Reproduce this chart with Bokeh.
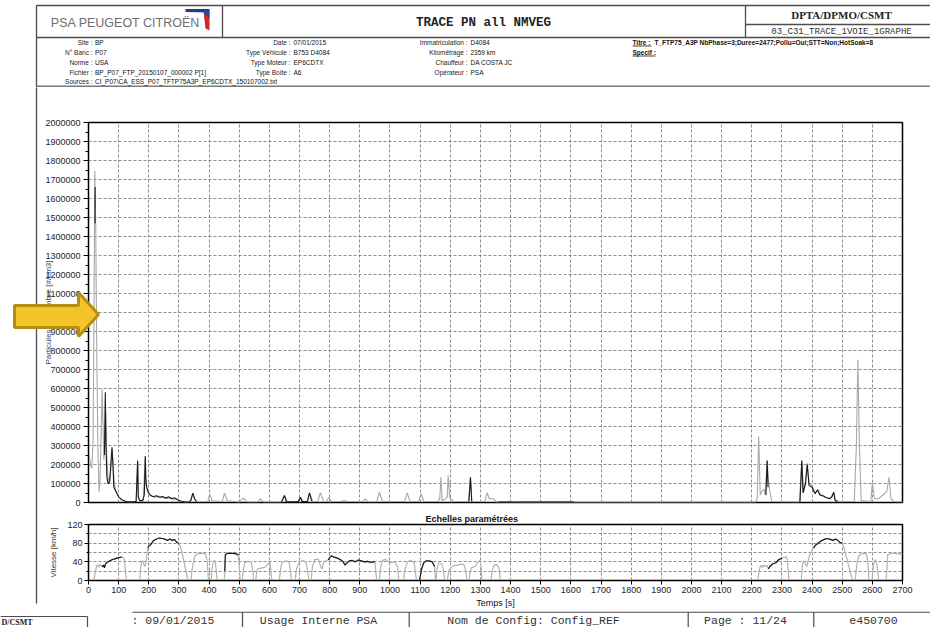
import math
from bokeh.plotting import figure
from bokeh.models import Range1d, SingleIntervalTicker, FixedTicker, NumeralTickFormatter
from bokeh.core.properties import value
from bokeh.embed import file_html
from bokeh.resources import INLINE

# ---------------- data ----------------
# particle number, grey trace: (time s, #/cm3)
particles_grey = [
    (0, 250000), (3, 245000), (7, 195000), (11, 180000), (15, 320000), (18, 950000), (21, 1745000), (24, 1450000), (27, 850000), (31, 300000),
    (35, 55000), (38, 110000), (42, 360000), (45, 598000), (48, 420000), (51, 225000), (54, 320000), (57, 480000), (60, 260000), (64, 140000),
    (69, 100000), (74, 170000), (78, 280000), (82, 190000), (86, 95000), (92, 55000), (100, 30000), (108, 15000), (116, 8000), (126, 4000),
    (140, 3000), (158, 5000), (163, 215000), (166, 20000), (172, 8000), (182, 18000), (188, 244000), (191, 90000), (196, 60000), (202, 42000),
    (212, 33000), (222, 28000), (232, 34000), (242, 24000), (252, 29000), (262, 20000), (272, 28000), (282, 14000), (292, 21000), (302, 9000),
    (312, 4000), (330, 3000), (340, 10000), (346, 48000), (352, 15000), (362, 4000), (396, 5000), (402, 46000), (410, 9000), (444, 5000),
    (451, 51000), (460, 9000), (500, 3000), (514, 23000), (526, 3000), (562, 3000), (570, 19000), (580, 3000), (640, 3000), (650, 37000),
    (660, 4000), (695, 5000), (703, 28000), (712, 5000), (726, 5000), (733, 51000), (744, 5000), (760, 5000), (769, 51000), (780, 5000),
    (790, 5000), (797, 28000), (806, 5000), (838, 6000), (848, 10000), (860, 5000), (910, 5000), (918, 19000), (927, 4000), (956, 4000),
    (965, 54000), (975, 5000), (1048, 5000), (1057, 51000), (1067, 5000), (1095, 5000), (1103, 46000), (1112, 5000), (1158, 5000), (1165, 20000),
    (1169, 133000), (1173, 10000), (1184, 18000), (1190, 30000), (1193, 142000), (1198, 25000), (1212, 5000), (1260, 5000), (1267, 133000), (1272, 5000),
    (1314, 5000), (1322, 51000), (1330, 20000), (1343, 20000), (1352, 3000), (1420, 2000), (1700, 2000), (2000, 2000), (2212, 2000), (2218, 20000),
    (2223, 347000), (2228, 40000), (2234, 60000), (2240, 70000), (2245, 40000), (2251, 221000), (2256, 100000), (2266, 5000), (2358, 3000), (2366, 220000),
    (2372, 60000), (2378, 90000), (2384, 207000), (2390, 100000), (2400, 90000), (2410, 46000), (2420, 67000), (2430, 37000), (2445, 28000), (2460, 20000),
    (2472, 54000), (2478, 12000), (2490, 5000), (2540, 5000), (2547, 300000), (2552, 751000), (2557, 300000), (2563, 10000), (2595, 5000), (2600, 107000),
    (2607, 20000), (2620, 20000), (2640, 46000), (2648, 60000), (2655, 133000), (2662, 20000), (2672, 5000), (2700, 3000),
]
# particle number, dark trace segments
particles_dark_a = [(21.6, 1470000), (21.9, 1660000)]
particles_dark_b = [
    (53, 250000), (55.7, 580000), (58, 300000), (61, 133000), (65, 98000), (70, 110000), (74, 200000), (78, 291000), (81, 200000), (84, 80000),
    (90, 60000), (95, 46000), (100, 30000), (108, 19000), (116, 10000), (125, 5000), (140, 4000), (158, 5000), (163, 221000), (165, 30000),
    (170, 10000), (180, 10000), (185, 40000), (188.5, 244000), (190, 130000), (193, 80000), (198, 55000), (205, 38000), (215, 30000), (225, 35000),
    (235, 28000), (245, 32000), (255, 22000), (265, 30000), (275, 20000), (285, 25000), (295, 15000), (305, 8000), (320, 3000), (335, 3000),
    (340, 15000), (346, 49000), (352, 20000), (358, 5000),
]
particles_dark_c = [(640, 3000), (650, 37000), (656, 5000), (695, 4000), (703, 28000), (708, 5000), (726, 5000), (733, 51000), (740, 8000)]
particles_dark_d = [(1262, 5000), (1267, 133000), (1271, 5000)]
particles_dark_e = [(1360, 3000), (1610, 3000)]
particles_dark_f = [(2247, 40000), (2251, 221000), (2254, 80000)]
particles_dark_g = [
    (2360, 3000), (2366, 221000), (2370, 50000), (2378, 100000), (2384, 200000), (2390, 90000), (2400, 80000), (2410, 46000), (2418, 67000),
    (2425, 40000), (2435, 37000), (2445, 28000), (2458, 20000), (2466, 30000), (2472, 54000), (2476, 12000), (2484, 5000),
]

# vehicle speed, grey trace: (time s, km/h)
speed_grey = [
    (0, 0), (17, 0), (21, 12), (25, 25), (28, 33), (32, 33), (35, 28), (38, 34), (41, 33), (45, 30),
    (50, 33), (53, 27), (56, 35), (60, 38), (70, 42), (80, 45), (90, 47), (100, 49), (110, 50), (115, 50),
    (118, 45), (121, 30), (124, 10), (126, 0), (170, 0), (173, 25), (176, 40), (180, 42), (184, 35), (187, 30),
    (190, 35), (194, 55), (197, 70), (200, 74), (205, 76), (215, 85), (225, 89), (235, 91), (245, 90), (255, 88),
    (262, 86), (270, 89), (278, 86), (285, 88), (290, 84), (295, 81), (300, 80), (305, 72), (310, 60), (315, 45),
    (320, 30), (325, 15), (330, 0), (340, 0), (343, 20), (348, 40), (353, 52), (360, 57), (370, 58), (380, 58),
    (388, 57), (393, 45), (396, 20), (398, 0), (407, 0), (410, 25), (414, 40), (418, 44), (421, 38), (424, 20),
    (427, 0), (450, 0), (452, 20), (454, 55), (460, 58), (470, 58), (480, 58), (490, 57), (497, 55), (500, 30),
    (503, 0),
    (510, 0), (513, 20), (518, 38), (530, 41), (540, 40), (545, 20), (548, 0), (555, 0), (558, 20), (562, 25),
    (575, 27), (585, 28), (595, 35), (602, 40), (605, 20), (608, 0), (633, 0), (637, 25), (642, 38), (655, 42),
    (665, 40), (670, 20), (673, 0), (685, 0), (690, 25), (700, 40), (712, 43), (722, 38), (728, 15), (731, 0),
    (738, 0), (743, 30), (750, 45), (762, 46), (770, 30), (775, 25), (780, 40), (790, 43), (795, 44), (805, 53),
    (815, 50), (825, 48), (835, 45), (845, 40), (850, 33), (858, 38), (865, 42), (875, 43), (885, 40), (895, 44),
    (905, 42), (915, 40), (925, 41), (935, 39), (945, 40), (950, 40), (953, 20), (956, 0), (965, 0), (968, 25),
    (975, 43), (985, 45), (995, 40), (1005, 38), (1015, 40), (1025, 30), (1030, 0), (1045, 0), (1050, 25), (1058, 40),
    (1070, 43), (1080, 38), (1085, 15), (1088, 0), (1098, 0), (1105, 25), (1112, 38), (1120, 42), (1130, 42), (1140, 40),
    (1148, 30), (1151, 0), (1153, 0), (1156, 25), (1162, 38), (1172, 36), (1178, 20), (1181, 0), (1190, 0), (1195, 20),
    (1205, 30), (1215, 32), (1225, 33), (1235, 35), (1245, 34), (1252, 20), (1255, 0), (1262, 0), (1266, 20), (1272, 28),
    (1282, 30), (1290, 38), (1298, 43), (1302, 30), (1305, 0), (1335, 0), (1339, 20), (1345, 33), (1355, 34), (1362, 25),
    (1366, 0), (2220, 0),
    (2223, 15), (2227, 28), (2232, 33), (2236, 28), (2240, 33), (2245, 30), (2250, 33), (2255, 25), (2260, 30), (2270, 36),
    (2280, 38), (2290, 45), (2300, 48), (2310, 50), (2316, 50), (2319, 35), (2322, 10), (2324, 0), (2364, 0), (2367, 25),
    (2370, 40), (2374, 42), (2378, 35), (2382, 30), (2386, 40), (2392, 55), (2400, 65), (2405, 70), (2410, 75), (2420, 80),
    (2430, 85), (2440, 88), (2450, 90), (2460, 88), (2470, 86), (2478, 89), (2485, 86), (2492, 82), (2500, 80), (2506, 70),
    (2512, 55), (2518, 40), (2524, 25), (2530, 10), (2535, 0), (2543, 0), (2546, 20), (2550, 40), (2555, 52), (2562, 57),
    (2572, 58), (2580, 57), (2584, 45), (2587, 20), (2589, 0), (2599, 0), (2602, 25), (2606, 40), (2610, 45), (2614, 38),
    (2618, 20), (2621, 0), (2645, 0), (2648, 20), (2651, 55), (2660, 58), (2675, 58), (2690, 57), (2698, 55), (2700, 55),
]
# vehicle speed, dark trace segments
speed_dark_1 = [(45, 30), (50, 33), (53, 27), (56, 35), (60, 38), (70, 42), (80, 45), (90, 47), (100, 49), (110, 50)]
speed_dark_2 = [(197, 70), (200, 74), (205, 76), (215, 85), (225, 89), (235, 91), (245, 90), (255, 88), (262, 86), (270, 89),
                (278, 86), (285, 88), (290, 84), (295, 81), (300, 80)]
speed_dark_3 = [(452, 20), (454, 55), (460, 58), (470, 58), (480, 58), (490, 57), (497, 55)]
speed_dark_4 = [(795, 44), (805, 53), (815, 50), (825, 48), (835, 45), (845, 40), (850, 33), (858, 38), (865, 42), (875, 43),
                (885, 40), (895, 44), (905, 42), (915, 40), (925, 41), (935, 39), (945, 40), (950, 40)]
speed_dark_5 = [(1098, 0), (1105, 25), (1112, 38), (1120, 42), (1130, 42), (1140, 40), (1148, 30)]
speed_dark_6 = [(2255, 25), (2260, 30), (2270, 36), (2280, 38), (2290, 45), (2300, 48)]
speed_dark_7 = [(2405, 70), (2410, 75), (2420, 80), (2430, 85), (2440, 88), (2450, 90), (2460, 88), (2470, 86), (2478, 89),
                (2485, 86), (2492, 82), (2500, 80)]

y_ticks_speed = [0, 40, 80, 120]

header_col1 = [("Site :", "BP"), ("N° Banc :", "P07"), ("Norme :", "USA"),
               ("Fichier :", "BP_P07_FTP_20150107_000002 P[1]"),
               ("Sources :", "CI_P07\\CA_ESS_P07_TFTP75A3P_EP6CDTX_150107002.txt")]
header_col2 = [("Date :", "07/01/2015"), ("Type Véhicule :", "B753 D4084"), ("Type Moteur :", "EP6CDTX"), ("Type Boîte :", "A6")]
header_col3 = [("Immatriculation :", "D4084"), ("Kilométrage :", "2359 km"), ("Chauffeur :", "DA COSTA JC"), ("Opérateur :", "PSA")]
titre_value = "T_FTP75_A3P NbPhase=3;Duree=2477;Pollu=Oui;STT=Non;HotSoak=8"
footer_texts = [": 09/01/2015", "Usage Interne PSA", "Nom de Config: Config_REF", "Page : 11/24", "e450700"]

# ---------------- styling ----------------
W = 930
SANS = "Liberation Sans"
MONO = "Liberation Mono"
SERIF = "Liberation Serif"
LINE = "#4d4d4d"
GREY = "#a8a8a8"
DARK = "#1a1a1a"


def canvas_fig(height, y_top, **kw):
    f = figure(width=W, height=height, x_range=Range1d(0, W), y_range=Range1d(y_top + height, y_top),
               x_axis_type=None, y_axis_type=None, toolbar_location=None, output_backend="svg",
               min_border=0, outline_line_color=None, **kw)
    f.min_border_left = f.min_border_right = f.min_border_top = f.min_border_bottom = 0
    return f


def unzip(pairs):
    return [a for a, _ in pairs], [b for _, b in pairs]


# ---------------- header ----------------
H_HDR = 87
hdr = canvas_fig(H_HDR, 0)
hdr.segment(x0=[36, 36, 36, 222, 745, 745], y0=[5, 37, 5, 5, 5, 24],
            x1=[930, 930, 36, 222, 745, 930], y1=[5, 37, 87, 37, 37, 24], line_color=LINE, line_width=1.3)
hdr.segment(x0=[36], y0=[86], x1=[930], y1=[86], line_color="#7a7a7a", line_width=2)
# logo
hdr.text(x=[125], y=[22.5], text=["PSA PEUGEOT CITROËN"], text_font=value(SANS), text_font_size="12.5px",
         text_color="#6e6e70", text_align="center", text_baseline="middle")
hdr.patches(xs=[[185, 209, 209, 185], [203, 209, 209, 205]], ys=[[8.5, 8.5, 12, 11.5], [11, 11, 30, 28]],
            fill_color=["#1c3f94", "#d7242f"], line_color=None)
hdr.patches(xs=[[203, 209, 209]], ys=[[11.5, 11, 18]], fill_color=["#2a4aa0"], line_color=None)
hdr.text(x=[483], y=[22], text=["TRACE PN all NMVEG"], text_font=value(MONO), text_font_style="bold",
         text_font_size="12.5px", text_color="#222", text_align="center", text_baseline="middle")
hdr.text(x=[841], y=[14], text=["DPTA/DPMO/CSMT"], text_font=value(SERIF), text_font_style="bold",
         text_font_size="11px", text_color="#222", text_align="center", text_baseline="middle")
hdr.text(x=[841], y=[31], text=["03_C31_TRACE_1VOIE_1GRAPHE"], text_font=value(MONO),
         text_font_size="9px", text_color="#333", text_align="center", text_baseline="middle")
rows_y = [42, 52, 62, 71.5, 81]
for col, lx, vx in ((header_col1, 92, 94.5), (header_col2, 290, 293), (header_col3, 467, 470)):
    ys = rows_y[:len(col)]
    hdr.text(x=[lx] * len(col), y=ys, text=[c[0] for c in col], text_font=value(SANS), text_font_size="6.5px",
             text_color="#222", text_align="right", text_baseline="middle")
    hdr.text(x=[vx] * len(col), y=ys, text=[c[1] for c in col], text_font=value(SANS), text_font_size="6.5px",
             text_color="#111", text_align="left", text_baseline="middle")
hdr.text(x=[632, 632], y=[42, 52], text=["Titre :", "Specif :"], text_font=value(SANS), text_font_style="bold",
         text_font_size="6.5px", text_color="#111", text_align="left", text_baseline="middle")
hdr.segment(x0=[632, 632], y0=[45.5, 55.5], x1=[651, 655], y1=[45.5, 55.5], line_color="#111", line_width=0.8)
hdr.text(x=[654], y=[42], text=[titre_value], text_font=value(SANS), text_font_style="bold",
         text_font_size="6.5px", text_color="#111", text_align="left", text_baseline="middle")

# ---------------- main chart ----------------
H_MAIN = 423
main = figure(width=W, height=H_MAIN, x_range=Range1d(0, 2700), y_range=Range1d(0, 2000000),
              toolbar_location=None, output_backend="svg",
              min_border_left=88, min_border_right=28, min_border_top=35, min_border_bottom=8)
main.outline_line_color = "black"
main.outline_line_width = 1.5
main.xaxis.visible = False
main.xaxis.ticker = SingleIntervalTicker(interval=100, num_minor_ticks=0)
main.xgrid.ticker = SingleIntervalTicker(interval=100, num_minor_ticks=0)
main.yaxis.ticker = SingleIntervalTicker(interval=100000, num_minor_ticks=2)
main.yaxis.formatter = NumeralTickFormatter(format="0")
for g in (main.xgrid, main.ygrid):
    g.grid_line_color = "#808080"
    g.grid_line_dash = "3 2"
    g.grid_line_width = 0.9
ax = main.yaxis[0]
ax.major_label_text_font = SANS
ax.major_label_text_font_size = "9px"
ax.major_label_text_color = "#1e1e2a"
ax.major_tick_out = 5
ax.major_tick_in = 0
ax.minor_tick_out = 3
ax.minor_tick_in = 0
ax.axis_line_color = "black"
ax.major_label_standoff = 3

pgt, pgv = unzip(particles_grey)
main.line(pgt, pgv, line_color=GREY, line_width=1.1)
dark_p = [particles_dark_a, particles_dark_b, particles_dark_c, particles_dark_d,
          particles_dark_e, particles_dark_f, particles_dark_g]
main.multi_line([unzip(s)[0] for s in dark_p], [unzip(s)[1] for s in dark_p], line_color=DARK, line_width=1.1)

# ---------------- speed chart ----------------
H_LOW = 101
low = figure(width=W, height=H_LOW, x_range=Range1d(0, 2700), y_range=Range1d(0, 120),
             toolbar_location=None, output_backend="svg", title="Echelles paramétrées",
             min_border_left=88, min_border_right=28, min_border_top=14, min_border_bottom=31)
low.title.align = "left"
low.title.offset = 337
low.title.text_font = SANS
low.title.text_font_size = "9px"
low.title.text_font_style = "bold"
low.title.text_color = "#111"
low.title.standoff = 2
low.outline_line_color = "black"
low.outline_line_width = 1.5
low.xaxis.ticker = SingleIntervalTicker(interval=100, num_minor_ticks=0)
low.yaxis.ticker = FixedTicker(ticks=y_ticks_speed, minor_ticks=[20, 60, 100])
low.ygrid.ticker = FixedTicker(ticks=[20, 40, 60, 80, 100])
for g in (low.xgrid, low.ygrid):
    g.grid_line_color = "#808080"
    g.grid_line_dash = "3 2"
    g.grid_line_width = 0.9
for a in (low.xaxis[0], low.yaxis[0]):
    a.major_label_text_font = SANS
    a.major_label_text_font_size = "9px"
    a.major_label_text_color = "#1e1e2a"
    a.major_tick_out = 4
    a.major_tick_in = 0
    a.minor_tick_out = 2
    a.minor_tick_in = 0
    a.axis_line_color = "black"
    a.major_label_standoff = 2
    a.axis_label_text_font = SANS
    a.axis_label_text_font_style = "normal"
low.xaxis.axis_label = "Temps [s]"
low.xaxis.axis_label_text_font_size = "9px"
low.xaxis.axis_label_text_color = "#111"
low.xaxis.axis_label_standoff = 2
low.yaxis.axis_label = "Vitesse [km/h]"
low.yaxis.axis_label_text_font_size = "8px"
low.yaxis.axis_label_text_color = "#4a3628"
low.yaxis.axis_label_standoff = 6

sgt, sgv = unzip(speed_grey)
low.line(sgt, sgv, line_color="#b2b2b2", line_width=1.2)
dark_s = [speed_dark_1, speed_dark_2, speed_dark_3, speed_dark_4, speed_dark_5, speed_dark_6, speed_dark_7]
low.multi_line([unzip(s)[0] for s in dark_s], [unzip(s)[1] for s in dark_s], line_color=DARK, line_width=1.2)

# ---------------- footer ----------------
H_FOOT = 16
Y_FOOT = H_HDR + H_MAIN + H_LOW
foot = canvas_fig(H_FOOT, Y_FOOT)
foot.segment(x0=[132, 242, 408.7, 687.7, 813.3, 0, 87], y0=[611.6, 611.6, 611.6, 611.6, 611.6, 616, 616],
             x1=[930, 242, 408.7, 687.7, 813.3, 87, 87], y1=[611.6, 627, 627, 627, 627, 616, 627],
             line_color=LINE, line_width=1.2)
foot.text(x=[131], y=[619.5], text=[footer_texts[0]], text_font=value(MONO), text_font_size="11.5px",
          text_color="#333", text_align="left", text_baseline="middle")
foot.text(x=[318, 533, 745, 873], y=[619.5] * 4, text=footer_texts[1:], text_font=value(MONO),
          text_font_size="11.5px", text_color="#333", text_align="center", text_baseline="middle")
foot.text(x=[1], y=[622], text=["D/CSMT"], text_font=value(SERIF), text_font_style="bold",
          text_font_size="8px", text_color="#222", text_align="left", text_baseline="middle")

# ---------------- overlay (page frame line, axis title, arrow) ----------------
ov = canvas_fig(627, 0, background_fill_color=None, border_fill_color=None,
                styles={"position": "absolute", "left": "0px", "top": "0px"})
ov.segment(x0=[36], y0=[87], x1=[36], y1=[603], line_color=LINE, line_width=1.3)
ov.text(x=[48], y=[312], text=["Particules en nombre [#/cm3]"], angle=math.pi / 2, text_font=value(SANS),
        text_font_size="8px", text_color="#3b4660", text_align="center", text_baseline="middle")
arrow_x = [14, 78, 78, 98, 78, 78, 14]
arrow_y = [305, 305, 292, 314, 336, 327, 327]
ov.patch(arrow_x, arrow_y, fill_color="#f3c42c", line_color="#b58f12", line_width=3)

open("out.html", "w").write(file_html([hdr, main, low, foot, ov], INLINE))
